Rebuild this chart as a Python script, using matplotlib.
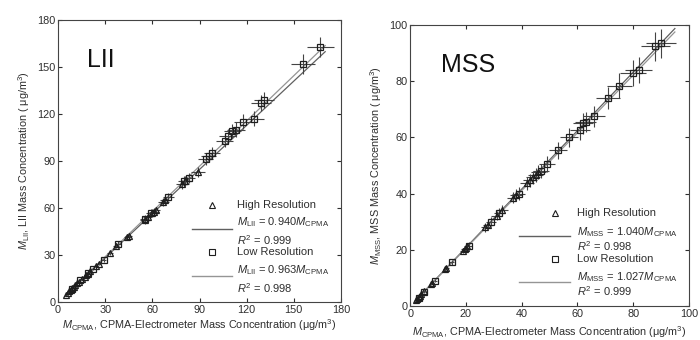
import matplotlib
matplotlib.use("Agg")
import matplotlib.pyplot as plt
from matplotlib.lines import Line2D

plt.rcParams["font.family"] = ["Liberation Sans", "DejaVu Sans"]
plt.rcParams["mathtext.fontset"] = "custom"
plt.rcParams["mathtext.rm"] = "Liberation Sans"
plt.rcParams["mathtext.it"] = "Liberation Sans:italic"

# --------------------
# LII panel data (ug/m3)
# --------------------
lii_hi_x = [5, 6, 7, 8, 9, 10, 11, 12, 13, 15, 17, 18, 19, 20, 24, 26, 33, 37, 44, 45, 55, 57, 60, 61, 62, 67, 68, 79, 81, 89]
lii_hi_y = [4.5, 5.5, 7, 7.5, 9, 9.5, 10.5, 12, 12.5, 14.5, 16, 17.5, 18, 19.5, 23, 24.5, 31, 36, 41.5, 42, 52, 54, 57, 57.5, 58.5, 64, 65, 75, 77, 83]
lii_hi_xerr = [0.3, 0.3, 0.4, 0.4, 0.5, 0.5, 0.6, 0.6, 0.7, 0.8, 0.9, 0.9, 1, 1, 1.2, 1.3, 1.7, 1.9, 2.2, 2.3, 2.8, 2.9, 3, 3.1, 3.1, 3.4, 3.4, 4, 4.1, 4.5]
lii_hi_yerr = [0.2, 0.3, 0.3, 0.3, 0.4, 0.4, 0.4, 0.5, 0.5, 0.6, 0.7, 0.7, 0.7, 0.8, 1, 1, 1.3, 1.5, 1.7, 1.7, 2.1, 2.2, 2.3, 2.3, 2.4, 2.6, 2.6, 3, 3.1, 3.3]

lii_lo_x = [9, 14, 19, 22, 29, 38, 55, 59, 70, 80, 83, 94, 96, 98, 106, 108, 111, 113, 118, 125, 129, 131, 156, 167]
lii_lo_y = [8.5, 14, 18.5, 21, 27, 37, 53, 57, 67, 77, 79, 91, 93, 95, 103, 106, 109, 110, 115, 117, 127, 129, 152, 163]
lii_lo_xerr = [0.5, 0.7, 1, 1.1, 1.5, 1.9, 2.8, 3, 3.5, 4, 4.2, 4.7, 4.8, 4.9, 5.3, 5.4, 5.6, 5.7, 5.9, 6.3, 6.5, 6.6, 7.8, 8.4]
lii_lo_yerr = [0.4, 0.6, 0.8, 0.9, 1.2, 1.6, 2.2, 2.4, 2.8, 3.2, 3.3, 3.8, 3.9, 4, 4.3, 4.4, 4.5, 4.6, 4.8, 4.9, 5.2, 5.3, 6.2, 6.5]

# --------------------
# MSS panel data (ug/m3)
# --------------------
mss_hi_x = [2, 2.5, 3, 3.5, 4, 5, 7.5, 8, 12.5, 13, 19, 19.5, 20, 20.5, 27, 28, 31, 33, 37, 38, 42, 43, 44, 45, 46]
mss_hi_y = [2, 2.6, 3.1, 3.6, 4.2, 5.2, 7.8, 8.3, 13, 13.5, 19.7, 20.3, 20.8, 21.3, 28, 29, 32.2, 34.3, 38.5, 39.5, 43.7, 44.7, 45.8, 46.8, 47.8]
mss_hi_xerr = [0.1, 0.2, 0.2, 0.2, 0.2, 0.3, 0.5, 0.5, 0.8, 0.8, 1.1, 1.2, 1.2, 1.2, 1.6, 1.7, 1.9, 2, 2.2, 2.3, 2.5, 2.6, 2.6, 2.7, 2.8]
mss_hi_yerr = [0.1, 0.1, 0.2, 0.2, 0.2, 0.3, 0.4, 0.4, 0.7, 0.7, 1, 1.1, 1.1, 1.1, 1.5, 1.5, 1.7, 1.8, 2, 2.1, 2.3, 2.3, 2.4, 2.5, 2.5]

mss_lo_x = [3, 5, 9, 15, 21, 29, 32, 39, 47, 49, 53, 57, 61, 62, 63, 66, 71, 75, 80, 82, 88, 90]
mss_lo_y = [3, 5, 9, 15.5, 21.5, 30, 33, 40, 48, 50.5, 55.5, 60, 62.5, 65, 65.5, 67.5, 74, 78.5, 83, 84, 92.5, 93.5]
mss_lo_xerr = [0.2, 0.3, 0.5, 0.9, 1.3, 1.7, 1.9, 2.3, 2.8, 2.9, 3.2, 3.4, 3.7, 3.7, 3.8, 4, 4.3, 4.5, 4.8, 4.9, 5.3, 5.4]
mss_lo_yerr = [0.2, 0.3, 0.5, 0.8, 1.2, 1.6, 1.8, 2.2, 2.6, 2.8, 3, 3.3, 3.4, 3.6, 3.6, 3.7, 4, 4.3, 4.6, 4.6, 5.1, 5.1]

# fit slopes
lii_slope_hi, lii_slope_lo = 0.940, 0.963
mss_slope_hi, mss_slope_lo = 1.040, 1.027

MK = "#1e1e1e"
EB = "#444444"
FIT_HI = "#606060"
FIT_LO = "#959595"
TXT = "#2e2e2e"


def draw_points(ax, x, y, xerr, yerr, marker):
    ax.errorbar(x, y, xerr=xerr, yerr=yerr, fmt=marker, ms=5, mfc="none",
                mec=MK, mew=0.9, ecolor=EB, elinewidth=0.8, capsize=0, zorder=3)


def style_axes(ax, lim, ticks):
    ax.set_xlim(0, lim)
    ax.set_ylim(0, lim)
    ax.set_xticks(ticks)
    ax.set_yticks(ticks)
    ax.tick_params(direction="in", top=True, right=True, length=3,
                   labelsize=7.8, colors=TXT, pad=2)
    for s in ax.spines.values():
        s.set_color("#444444")
        s.set_linewidth(0.8)


def legend_block(ax, x_mark, x_text, x_line, rows, name, slope_hi, slope_lo, r2_hi, r2_lo):
    tr = ax.transAxes
    kw = dict(transform=tr, fontsize=8, color=TXT, va="center", ha="left")
    ax.plot([x_mark], [rows[0]], marker="^", ms=5, mfc="none", mec=MK, mew=0.8, transform=tr)
    ax.text(x_text, rows[0], "High Resolution", **kw)
    ax.text(x_text, rows[1], r"$M_{\mathrm{%s}}$ = %.3f$M_{\mathrm{CPMA}}$" % (name, slope_hi), **kw)
    ax.add_line(Line2D(x_line, [rows[2]] * 2, color=FIT_HI, lw=1.0, transform=tr))
    ax.text(x_text, rows[3], r"$R^2$ = %.3f" % r2_hi, **kw)
    ax.plot([x_mark], [rows[4]], marker="s", ms=4.5, mfc="none", mec=MK, mew=0.8, transform=tr)
    ax.text(x_text, rows[4], "Low Resolution", **kw)
    ax.text(x_text, rows[5], r"$M_{\mathrm{%s}}$ = %.3f$M_{\mathrm{CPMA}}$" % (name, slope_lo), **kw)
    ax.add_line(Line2D(x_line, [rows[6]] * 2, color=FIT_LO, lw=1.0, transform=tr))
    ax.text(x_text, rows[7], r"$R^2$ = %.3f" % r2_lo, **kw)


fig = plt.figure(figsize=(7, 3.4), dpi=100)
ax1 = fig.add_axes([0.083, 0.112, 0.404, 0.829])
ax2 = fig.add_axes([0.586, 0.100, 0.398, 0.826])

# --------------------
# LII
# --------------------
ax1.plot([5, 170], [5 * lii_slope_hi, 170 * lii_slope_hi], color=FIT_HI, lw=0.9, zorder=2)
ax1.plot([5, 170], [5 * lii_slope_lo, 170 * lii_slope_lo], color=FIT_LO, lw=0.9, zorder=2)
draw_points(ax1, lii_hi_x, lii_hi_y, lii_hi_xerr, lii_hi_yerr, "^")
draw_points(ax1, lii_lo_x, lii_lo_y, lii_lo_xerr, lii_lo_yerr, "s")
style_axes(ax1, 180, [0, 30, 60, 90, 120, 150, 180])
ax1.text(18.5, 150, "LII", fontsize=18, color="#111111")
ax1.set_xlabel(r"$M_{\mathrm{CPMA}}$, CPMA-Electrometer Mass Concentration (μg/m$^3$)",
               fontsize=7.8, color=TXT, labelpad=2)
ax1.set_ylabel(r"$M_{\mathrm{LII}}$, LII Mass Concentration ( μg/m$^3$)",
               fontsize=7.8, color=TXT, labelpad=4)
legend_block(ax1, 0.544, 0.633, [0.473, 0.615],
             [0.344, 0.284, 0.259, 0.22, 0.177, 0.113, 0.092, 0.05],
             "LII", lii_slope_hi, lii_slope_lo, 0.999, 0.998)

# --------------------
# MSS
# --------------------
ax2.plot([2, 95], [2 * mss_slope_hi, 95 * mss_slope_hi], color=FIT_HI, lw=0.9, zorder=2)
ax2.plot([2, 95], [2 * mss_slope_lo, 95 * mss_slope_lo], color=FIT_LO, lw=0.9, zorder=2)
draw_points(ax2, mss_hi_x, mss_hi_y, mss_hi_xerr, mss_hi_yerr, "^")
draw_points(ax2, mss_lo_x, mss_lo_y, mss_lo_xerr, mss_lo_yerr, "s")
style_axes(ax2, 100, [0, 20, 40, 60, 80, 100])
ax2.text(11, 83.3, "MSS", fontsize=18, color="#111111")
ax2.set_xlabel(r"$M_{\mathrm{CPMA}}$, CPMA-Electrometer Mass Concentration (μg/m$^3$)",
               fontsize=7.8, color=TXT, labelpad=4)
ax2.set_ylabel(r"$M_{\mathrm{MSS}}$, MSS Mass Concentration ( μg/m$^3$)",
               fontsize=7.8, color=TXT, labelpad=4)
legend_block(ax2, 0.519, 0.60, [0.389, 0.572],
             [0.331, 0.263, 0.249, 0.214, 0.167, 0.103, 0.085, 0.053],
             "MSS", mss_slope_hi, mss_slope_lo, 0.998, 0.999)

fig.savefig("out.png", dpi=100, facecolor="white")
